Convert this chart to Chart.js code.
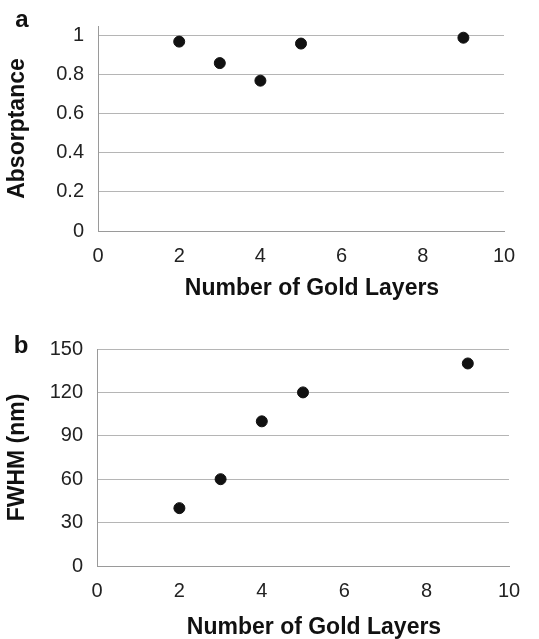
<!DOCTYPE html>
<html>
<head>
<meta charset="utf-8">
<script src="https://cdn.jsdelivr.net/npm/chart.js@4.4.1/dist/chart.umd.min.js"></script>
<style>
	body { margin: 0; background: #fff; }
	.panel { position: absolute; left: 0; width: 539px; }
	#wrapA { top: 0; height: 300px; }
	#wrapB { top: 320px; height: 319px; }
</style>
</head>
<body>
<div class="panel" id="wrapA"><canvas id="chartA"></canvas></div>
<div class="panel" id="wrapB"><canvas id="chartB"></canvas></div>
<script>
// gold layer counts shared by both panels
const layers = [2, 3, 4, 5, 9];
const absorptance = [0.97, 0.86, 0.77, 0.96, 0.99];
const fwhm = [40, 60, 100, 120, 140];

const xTicks = [0, 2, 4, 6, 8, 10];
const absTicks = [0, 0.2, 0.4, 0.6, 0.8, 1];
const fwhmTicks = [0, 30, 60, 90, 120, 150];

const fontFamily = '"Liberation Sans", Arial, Helvetica, sans-serif';

// draws the panel letter (a / b) in the top-left corner
const panelLetter = {
	id: 'panelLetter',
	afterDraw(chart, args, opts) {
		const ctx = chart.ctx;
		ctx.save();
		ctx.font = 'bold 24px ' + fontFamily;
		ctx.fillStyle = '#111';
		ctx.textAlign = 'center';
		ctx.textBaseline = 'middle';
		ctx.fillText(opts.text, opts.x, opts.y);
		ctx.restore();
	},
};

// the x title sits a bit right of (and below) the plot centre in the original,
// so nudge only the title drawing
function nudgeTitle(s, dx, dy) {
	if (s._nudged) return;
	s._nudged = true;
	const orig = s.drawTitle;
	s.drawTitle = function () {
		this.left += dx; this.right += dx; this.top += dy; this.bottom += dy;
		orig.call(this);
		this.left -= dx; this.right -= dx; this.top -= dy; this.bottom -= dy;
	};
}

function createPanel(canvasId, values, yTicks, yMax, yLabel, letter, layout) {
	const ctx = document.getElementById(canvasId).getContext('2d');
	new Chart(ctx, {
		type: 'scatter',
		data: {
			datasets: [
				{
					label: yLabel,
					data: layers.map((x, i) => ({ x: x, y: values[i] })),
					backgroundColor: '#111',
					borderColor: '#111',
					pointRadius: 5.5,
				},
			],
		},
		options: {
			responsive: true,
			maintainAspectRatio: false,
			animation: false,
			layout: {
				padding: { top: layout.top, right: layout.right, left: 0, bottom: 0 },
			},
			plugins: {
				legend: { display: false },
				tooltip: { enabled: false },
				panelLetter: { text: letter, x: layout.letterX, y: layout.letterY },
			},
			scales: {
				x: {
					type: 'linear',
					min: 0,
					max: 10,
					afterFit: (s) => {
						s.height = layout.xHeight;
						nudgeTitle(s, 11, 2);
					},
					afterBuildTicks: (s) => { s.ticks = xTicks.map((v) => ({ value: v })); },
					grid: { display: false, drawTicks: false },
					border: { display: true, color: '#9a9a9a', width: 1 },
					ticks: {
						padding: 13,
						color: '#222',
						font: { family: fontFamily, size: 20 },
						callback: (v) => String(v),
					},
					title: {
						display: true,
						text: 'Number of Gold Layers',
						color: '#111',
						font: { family: fontFamily, size: 23, weight: 'bold' },
						padding: { top: 0, bottom: 0 },
					},
				},
				y: {
					type: 'linear',
					min: 0,
					max: yMax,
					afterFit: (s) => { s.width = layout.left; },
					afterBuildTicks: (s) => { s.ticks = yTicks.map((v) => ({ value: v })); },
					grid: { color: '#b5b5b5', drawTicks: false },
					border: { display: true, color: '#9a9a9a', width: 1 },
					ticks: {
						padding: 14,
						color: '#222',
						font: { family: fontFamily, size: 20 },
						callback: (v) => String(v),
					},
					title: {
						display: true,
						text: yLabel,
						color: '#111',
						font: { family: fontFamily, size: 23, weight: 'bold' },
						padding: { top: 4, bottom: 0 },
					},
				},
			},
		},
		plugins: [panelLetter],
	});
}

createPanel('chartA', absorptance, absTicks, 1.05, 'Absorptance', 'a',
	{ top: 14, right: 35, left: 98, xHeight: 69, letterX: 22, letterY: 20 });
createPanel('chartB', fwhm, fwhmTicks, 150, 'FWHM (nm)', 'b',
	{ top: 29, right: 30, left: 97, xHeight: 73, letterX: 21, letterY: 26 });
</script>
</body>
</html>
